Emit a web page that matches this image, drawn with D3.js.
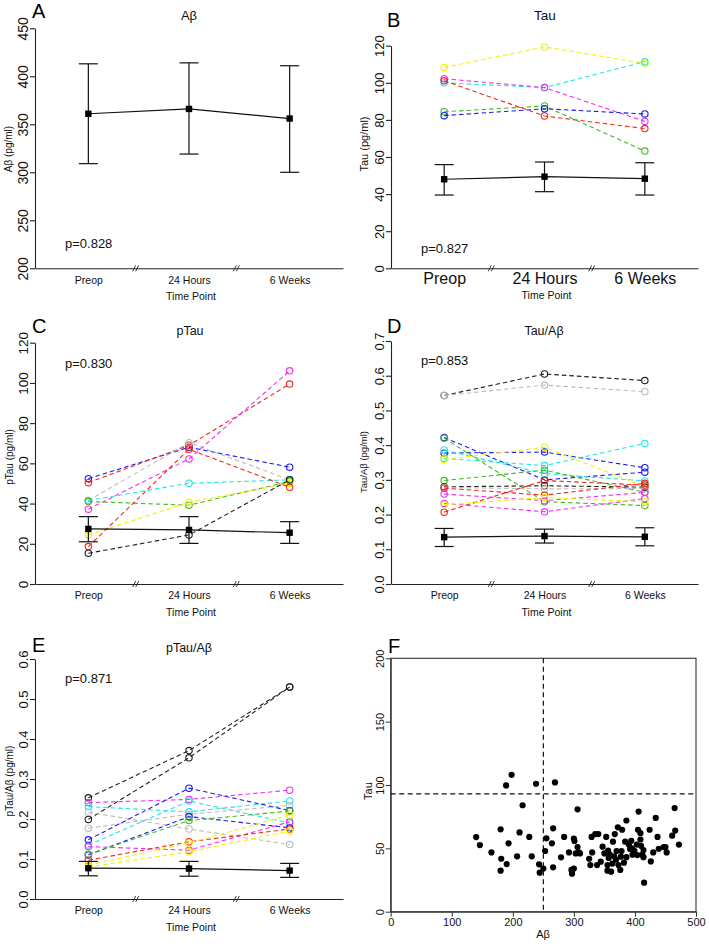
<!DOCTYPE html>
<html><head><meta charset="utf-8">
<script src="https://cdn.jsdelivr.net/npm/d3@7"></script>
<style>body{margin:0;background:#fff;} svg{display:block;font-family:Arial,"Liberation Sans",sans-serif;}</style>
</head><body><svg id="c" width="709" height="944"></svg>
<script>
// ---------- DATA ----------
const timePoints = ["Preop", "24 Hours", "6 Weeks"];

// Panel A: Aβ
const abMean  = [361, 366, 356];
const abLower = [309, 319, 300];
const abUpper = [413, 414, 411];
const abTicks = [200, 250, 300, 350, 400, 450];

// Panel B: Tau
const tauMean  = [48, 49.4, 48.3];
const tauLower = [39.5, 41.3, 39.5];
const tauUpper = [55.9, 57.3, 56.9];
const tauColors = ["yellow", "cyan", "magenta", "red", "green", "blue"];
const tauSubjects = [
  [108.3, 119.3, 110.5],
  [100, 97.4, 111.4],
  [102.2, 97.4, 79.2],
  [101.1, 82.1, 75.3],
  [84.4, 87.5, 63.2],
  [82.3, 86, 83.2]
];
const tauTicks = [0, 20, 40, 60, 80, 100, 120];

// Panel C: pTau
const ptauMean  = [27.4, 26.9, 25.5];
const ptauLower = [21, 20.2, 20.2];
const ptauUpper = [33.5, 33.5, 31];
const ptauColors = ["blue", "red", "grey", "magenta", "cyan", "green", "yellow", "red", "black"];
const ptauSubjects = [
  [52.4, 68, 58.1],
  [50.4, 69, 99.4],
  [41.5, 70.3, 51.8],
  [37.2, 62.2, 106],
  [41.5, 50.1, 51.8],
  [41, 39.2, 51],
  [24.4, 40.7, 50],
  [18.6, 67, 48.1],
  [15.3, 24.4, 51.8]
];
const ptauTicks = [0, 20, 40, 60, 80, 100, 120];

// Panel D: Tau/Aβ
const ratioMean  = [0.135, 0.138, 0.136];
const ratioLower = [0.108, 0.118, 0.110];
const ratioUpper = [0.160, 0.158, 0.162];
const ratioColors = ["black", "grey", "blue", "blue", "cyan", "cyan", "yellow", "green", "green",
                     "black", "grey", "red", "red", "magenta", "magenta", "yellow"];
const ratioSubjects = [
  [0.543, 0.605, 0.586],
  [0.543, 0.573, 0.554],
  [0.422, 0.300, 0.322],
  [0.377, 0.380, 0.335],
  [0.386, 0.318, 0.297],
  [0.362, 0.341, 0.405],
  [0.359, 0.394, 0.280],
  [0.420, 0.237, 0.226],
  [0.298, 0.328, 0.264],
  [0.280, 0.283, 0.279],
  [0.278, 0.274, 0.275],
  [0.276, 0.256, 0.290],
  [0.207, 0.298, 0.285],
  [0.259, 0.240, 0.264],
  [0.232, 0.208, 0.246],
  [0.228, 0.249, 0.237]
];
const ratioTicks = [0, 0.1, 0.2, 0.3, 0.4, 0.5, 0.6, 0.7];

// Panel E: pTau/Aβ
const pratioMean  = [0.077, 0.076, 0.071];
const pratioLower = [0.058, 0.057, 0.054];
const pratioUpper = [0.094, 0.094, 0.089];
const pratioColors = ["black", "black", "magenta", "cyan", "cyan", "grey", "grey", "blue", "blue",
                      "magenta", "green", "red", "yellow", "yellow"];
const pratioSubjects = [
  [0.253, 0.371, 0.530],
  [0.199, 0.353, 0.530],
  [0.241, 0.249, 0.272],
  [0.231, 0.218, 0.245],
  [0.135, 0.245, 0.190],
  [0.217, 0.175, 0.136],
  [0.177, 0.212, 0.234],
  [0.148, 0.277, 0.221],
  [0.110, 0.206, 0.178],
  [0.131, 0.122, 0.193],
  [0.112, 0.196, 0.220],
  [0.097, 0.143, 0.175],
  [0.085, 0.140, 0.210],
  [0.080, 0.118, 0.170]
];
const pratioTicks = [0, 0.1, 0.2, 0.3, 0.4, 0.5, 0.6];

// Panel F: scatter Aβ vs Tau
const scatterAb = [140,146,165,180,181,180,189,198,193,190,207,211,216,227,231,238,243,244,250,253,255,264,266,266,269,279,284,292,296,297,300,300,301,306,306,303,308,310,325,327,329,330,335,338,340,344,347,350,353,355,355,356,357,359,361,363,364,366,367,369,370,372,373,376,377,378,379,382,384,386,386,390,392,394,395,396,399,403,406,405,404,409,409,410,412,414,414,415,424,426,430,434,437,439,447,450,452,461,466,465,472];
const scatterTau = [58.9,52.6,46.8,32.4,41.8,65,99.7,108,54,37.6,43.7,62.6,84,59,43.7,101,37.4,30.8,34,47.9,57.9,54,65.8,35,102,42.9,59,46.8,33,30,34,57.6,55.8,80.8,51,46,46.8,46,41.8,36.8,59,46.8,61.3,36.8,61.3,39.5,51.3,46,59,36.8,32.4,48.2,42.4,45,31.6,38,55.3,43.7,61.3,41,47.9,66.6,36.8,33,43.4,47.9,64.7,38.7,55.3,72,43,53,49.5,56,50,45,48,53,79,64.7,44.7,62,57,52,45,43,48.7,22.9,64.7,39.7,46.8,74,59,49.7,51,51,46.8,60,64,81.8,53];
const scatterXTicks = [0, 100, 200, 300, 400, 500];
const scatterYTicks = [0, 50, 100, 150, 200];
const abCutoff = 250;
const tauCutoff = 93;

// ---------- STYLE ----------
const palette = {
  yellow: "#f2f200", cyan: "#22e5e5", magenta: "#f030f0", red: "#f02a1a",
  green: "#44b82a", blue: "#1c1cf0", grey: "#bcbcbc", black: "#202020"
};

const svg = d3.select("#c");

function drawTimePanel(o) {
  const g = svg.append("g");
  const x = d3.scalePoint().domain(timePoints).range([o.left, o.right]).padding(0.53);
  const y = d3.scaleLinear().domain(o.domain).range([o.bottom, o.top]);

  // y axis
  const ya = g.append("g").attr("transform", `translate(${o.left},0)`)
    .call(d3.axisLeft(y).tickValues(o.ticks).tickSize(5).tickSizeOuter(0).tickFormat(o.fmt));
  ya.select(".domain").attr("stroke", "#222").attr("stroke-width", 1.1);
  ya.selectAll(".tick line").attr("stroke", "#222").attr("stroke-width", 1.1);
  ya.selectAll(".tick text").attr("transform", "rotate(-90)").attr("x", 0).attr("y", -7)
    .attr("dy", 0).attr("text-anchor", "middle").attr("fill", "#111")
    .attr("font-size", o.yTickSize).attr("font-family", "Arial, 'Liberation Sans', sans-serif");

  // x axis
  const xa = g.append("g").attr("transform", `translate(0,${o.bottom})`)
    .call(d3.axisBottom(x).tickSize(0).tickSizeOuter(0).tickPadding(o.xPad));
  xa.select(".domain").attr("stroke", "#222").attr("stroke-width", 1.1);
  xa.selectAll(".tick text").attr("fill", "#111").attr("font-size", o.xTickSize)
    .attr("font-family", "Arial, 'Liberation Sans', sans-serif");

  // axis break marks
  for (let i = 0; i < timePoints.length - 1; i++) {
    const mx = (x(timePoints[i]) + x(timePoints[i + 1])) / 2 - 3;
    [-1.5, 1.5].forEach(dx => {
      g.append("line").attr("x1", mx + dx - 1.5).attr("y1", o.bottom + 3)
        .attr("x2", mx + dx + 1.5).attr("y2", o.bottom - 3)
        .attr("stroke", "#222").attr("stroke-width", 0.9);
    });
  }

  // subject lines
  (o.subjects || []).forEach((vals, i) => {
    const col = palette[o.colors[i]];
    const pts = timePoints.map((t, j) => [x(t), y(vals[j])]);
    g.append("path").attr("d", d3.line()(pts)).attr("fill", "none")
      .attr("stroke", col).attr("stroke-width", 1.1).attr("stroke-dasharray", "4.5,3");
    g.selectAll(null).data(pts).enter().append("circle")
      .attr("cx", d => d[0]).attr("cy", d => d[1]).attr("r", 3.2)
      .attr("fill", "none").attr("stroke", col).attr("stroke-width", 1.1);
  });

  // mean line with error bars
  const mpts = timePoints.map((t, j) => [x(t), y(o.mean[j])]);
  g.append("path").attr("d", d3.line()(mpts)).attr("fill", "none")
    .attr("stroke", "#111").attr("stroke-width", 1.2);
  timePoints.forEach((t, j) => {
    const cx = x(t);
    g.append("line").attr("x1", cx).attr("x2", cx).attr("y1", y(o.lower[j])).attr("y2", y(o.upper[j]))
      .attr("stroke", "#111").attr("stroke-width", 1.2);
    [o.lower[j], o.upper[j]].forEach(v => {
      g.append("line").attr("x1", cx - 9.5).attr("x2", cx + 9.5).attr("y1", y(v)).attr("y2", y(v))
        .attr("stroke", "#111").attr("stroke-width", 1.2);
    });
    g.append("rect").attr("x", cx - 3.2).attr("y", y(o.mean[j]) - 3.2).attr("width", 6.4).attr("height", 6.4)
      .attr("fill", "#000");
  });

  // texts
  g.append("text").attr("x", o.letter[0]).attr("y", o.letter[1]).attr("font-size", 20).text(o.letterText);
  g.append("text").attr("x", o.titlePos[0]).attr("y", o.titlePos[1]).attr("text-anchor", "middle")
    .attr("font-size", o.titleSize).attr("fill", "#111").text(o.title);
  g.append("text").attr("x", o.pPos[0]).attr("y", o.pPos[1]).attr("font-size", 13).attr("fill", "#111").text(o.pText);
  g.append("text").attr("transform", `translate(${o.yLabPos[0]},${o.yLabPos[1]}) rotate(-90)`)
    .attr("text-anchor", "middle").attr("font-size", o.yLabSize).attr("fill", "#111").text(o.yLabel);
  g.append("text").attr("x", (o.left + o.right) / 2 + 2).attr("y", o.xLabY).attr("text-anchor", "middle")
    .attr("font-size", 10.5).attr("fill", "#111").text("Time Point");
}

const fmt0 = d3.format("d");
const fmt1 = d3.format(".1f");

drawTimePanel({
  left: 35, right: 343, top: 28.3, bottom: 268.3, domain: [200, 450], ticks: abTicks, fmt: fmt0,
  mean: abMean, lower: abLower, upper: abUpper,
  yTickSize: 14, xTickSize: 10.5, xPad: 8, letter: [32, 18], letterText: "A",
  title: "Aβ", titlePos: [189, 20], titleSize: 13, pText: "p=0.828", pPos: [65, 248],
  yLabel: "Aβ (pg/ml)", yLabPos: [12, 149], yLabSize: 10, xLabY: 300
});
drawTimePanel({
  left: 391, right: 698, top: 45.7, bottom: 268.3, domain: [0, 120], ticks: tauTicks, fmt: fmt0,
  mean: tauMean, lower: tauLower, upper: tauUpper, subjects: tauSubjects, colors: tauColors,
  yTickSize: 13, xTickSize: 16, xPad: 4, letter: [387, 27], letterText: "B",
  title: "Tau", titlePos: [545, 20], titleSize: 13.5, pText: "p=0.827", pPos: [421, 253],
  yLabel: "Tau (pg/ml)", yLabPos: [368, 144], yLabSize: 11, xLabY: 299
});
drawTimePanel({
  left: 35, right: 343, top: 342.7, bottom: 584, domain: [0, 120], ticks: ptauTicks, fmt: fmt0,
  mean: ptauMean, lower: ptauLower, upper: ptauUpper, subjects: ptauSubjects, colors: ptauColors,
  yTickSize: 13.5, xTickSize: 10.5, xPad: 8, letter: [32, 333], letterText: "C",
  title: "pTau", titlePos: [190, 335], titleSize: 12.5, pText: "p=0.830", pPos: [65, 368],
  yLabel: "pTau (pg/ml)", yLabPos: [13, 457], yLabSize: 10, xLabY: 616
});
drawTimePanel({
  left: 391, right: 698, top: 341, bottom: 584, domain: [0, 0.7], ticks: ratioTicks, fmt: fmt1,
  mean: ratioMean, lower: ratioLower, upper: ratioUpper, subjects: ratioSubjects, colors: ratioColors,
  yTickSize: 13, xTickSize: 10.5, xPad: 8, letter: [387, 333], letterText: "D",
  title: "Tau/Aβ", titlePos: [544, 335], titleSize: 12.5, pText: "p=0.853", pPos: [421, 365],
  yLabel: "Tau/Aβ (pg/ml)", yLabPos: [367, 462], yLabSize: 9.5, xLabY: 616
});
drawTimePanel({
  left: 35, right: 343, top: 659, bottom: 899, domain: [0, 0.6], ticks: pratioTicks, fmt: fmt1,
  mean: pratioMean, lower: pratioLower, upper: pratioUpper, subjects: pratioSubjects, colors: pratioColors,
  yTickSize: 13, xTickSize: 10.5, xPad: 8, letter: [32, 652], letterText: "E",
  title: "pTau/Aβ", titlePos: [189, 652], titleSize: 12.5, pText: "p=0.871", pPos: [65, 683],
  yLabel: "pTau/Aβ (pg/ml)", yLabPos: [13, 781], yLabSize: 10, xLabY: 931
});

// ---------- Panel F ----------
(function () {
  const g = svg.append("g");
  const L = 390.7, R = 696, T = 658.3, B = 911.7;
  const x = d3.scaleLinear().domain([0, 500]).range([L, R]);
  const y = d3.scaleLinear().domain([0, 200]).range([B, T]);

  const xa = g.append("g").attr("transform", `translate(0,${B})`)
    .call(d3.axisBottom(x).tickValues(scatterXTicks).tickSize(5).tickSizeOuter(0).tickPadding(2));
  xa.selectAll(".tick text").attr("font-size", 11).attr("fill", "#111")
    .attr("font-family", "Arial, 'Liberation Sans', sans-serif");
  const ya = g.append("g").attr("transform", `translate(${L},0)`)
    .call(d3.axisLeft(y).tickValues(scatterYTicks).tickSize(5).tickSizeOuter(0));
  ya.selectAll(".tick text").attr("transform", "rotate(-90)").attr("x", 0).attr("y", -7)
    .attr("dy", 0).attr("text-anchor", "middle").attr("font-size", 11).attr("fill", "#111")
    .attr("font-family", "Arial, 'Liberation Sans', sans-serif");
  g.selectAll(".domain").attr("stroke", "#333");
  g.selectAll(".tick line").attr("stroke", "#333");

  g.append("rect").attr("x", L).attr("y", T).attr("width", R - L).attr("height", B - T)
    .attr("fill", "none").attr("stroke", "#333").attr("stroke-width", 1.1);

  g.append("line").attr("x1", x(abCutoff)).attr("x2", x(abCutoff)).attr("y1", T).attr("y2", B)
    .attr("stroke", "#111").attr("stroke-width", 1.2).attr("stroke-dasharray", "5,3.5");
  g.append("line").attr("x1", L).attr("x2", R).attr("y1", y(tauCutoff)).attr("y2", y(tauCutoff))
    .attr("stroke", "#111").attr("stroke-width", 1.2).attr("stroke-dasharray", "5,3.5");

  g.selectAll(null).data(scatterAb.map((a, i) => [a, scatterTau[i]])).enter().append("circle")
    .attr("cx", d => x(d[0])).attr("cy", d => y(d[1])).attr("r", 3.1).attr("fill", "#000");

  g.append("text").attr("x", 388).attr("y", 653).attr("font-size", 20).text("F");
  g.append("text").attr("x", 543).attr("y", 938).attr("text-anchor", "middle").attr("font-size", 11)
    .attr("fill", "#111").text("Aβ");
  g.append("text").attr("transform", "translate(372,791) rotate(-90)").attr("text-anchor", "middle")
    .attr("font-size", 11).attr("fill", "#111").text("Tau");
})();
</script>
</body></html>
